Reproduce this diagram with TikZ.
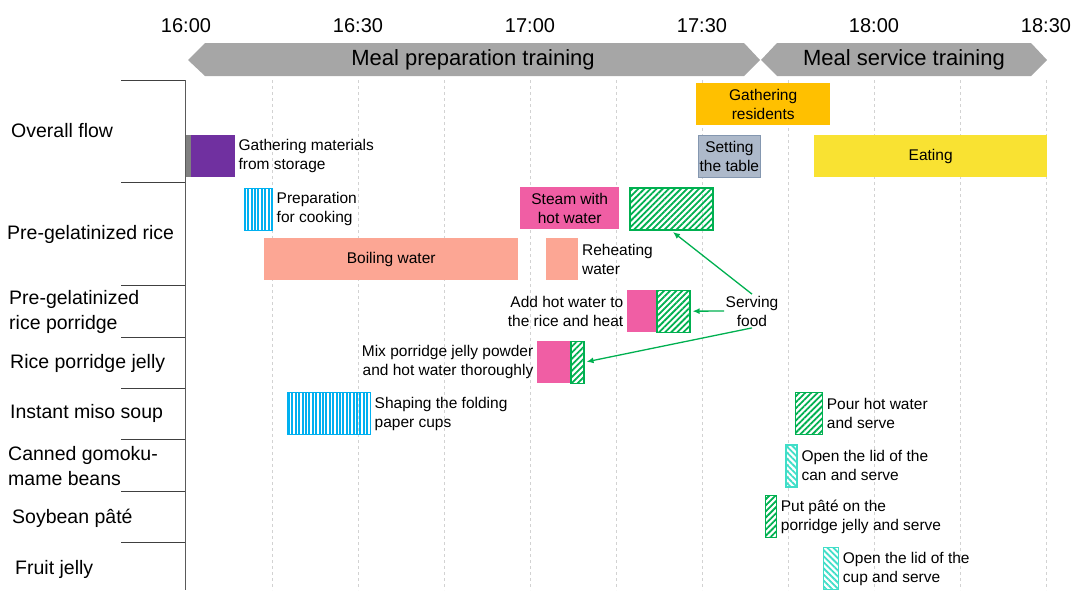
\documentclass[tikz,border=0pt]{standalone}
\usepackage{fontspec}
\setmainfont{Liberation Sans}
\usetikzlibrary{positioning,arrows.meta,patterns.meta}
\definecolor{PhaseGray}{RGB}{166,166,166}
\definecolor{StoreViolet}{RGB}{112,48,160}
\definecolor{StoreEdge}{RGB}{128,128,128}
\definecolor{ResidentOrange}{RGB}{255,192,0}
\definecolor{TableBlue}{RGB}{173,185,202}
\definecolor{TableEdge}{RGB}{132,151,176}
\definecolor{EatYellow}{RGB}{249,226,50}
\definecolor{SteamPink}{RGB}{240,94,164}
\definecolor{BoilSalmon}{RGB}{252,166,148}
\definecolor{ServeGreen}{RGB}{0,176,80}
\definecolor{LidCyan}{RGB}{64,222,200}
\definecolor{CupBlue}{RGB}{0,176,240}
\definecolor{GridGray}{RGB}{210,210,210}
\definecolor{AxisGray}{RGB}{90,90,90}

\begin{document}
\begin{tikzpicture}[
  x=1pt, y=-1pt,
  >={Latex[length=7pt,width=6pt]},
  tick/.style={font=\fontsize{20}{24}\selectfont, inner sep=0pt},
  phase/.style={font=\fontsize{22}{26}\selectfont, inner sep=0pt},
  row/.style={font=\fontsize{19.5}{24.5}\selectfont, anchor=west, align=left, inner sep=0pt},
  note/.style={font=\fontsize{15.5}{19}\selectfont, align=left, inner sep=1.5pt},
  bar/.style={anchor=north west, minimum height=42, inner sep=0pt, align=center,
              font=\fontsize{15.5}{19}\selectfont},
  hatch/.style={bar, draw=ServeGreen, line width=1.2pt, pattern color=ServeGreen,
                pattern={Lines[angle=45, distance=4.3pt, line width=1.8pt]}},
  lidhatch/.style={bar, draw=LidCyan, line width=1.2pt, pattern color=LidCyan,
                   pattern={Lines[angle=-45, distance=4.3pt, line width=1.8pt]}},
  stripe/.style={bar, draw=CupBlue, line width=1pt, pattern color=CupBlue,
                 pattern={Lines[angle=90, distance=3.4pt, line width=2pt]}},
  grid/.style={GridGray, dashed, line width=0.7pt},
  sep/.style={black!75, line width=0.8pt},
  axis/.style={AxisGray, line width=1pt},
  servearrow/.style={->, ServeGreen, line width=1.3pt, shorten >=2pt},
]
\useasboundingbox (0,0) rectangle (1072,590);

% ============ TIME AXIS (top) ============
\foreach \t [count=\i from 0] in {16:00,16:30,17:00,17:30,18:00,18:30}
  \node[tick] (t\i) at (186+172*\i, 26) {\t};
\foreach \i in {1,...,10}
  \draw[grid] (186+86*\i, 80) -- (186+86*\i, 590);

% phase banners
\fill[PhaseGray] (188,60) -- (205,43) -- (744,43) -- (760,60) -- (744,76) -- (205,76) -- cycle;
\fill[PhaseGray] (761,60) -- (777,43) -- (1031,43) -- (1047,60) -- (1031,76) -- (777,76) -- cycle;
\node[phase] (prep) at (473,60) {Meal preparation training};
\node[phase] (service) at (904,60) {Meal service training};

% ============ ROW HEADS (left) ============
\foreach \y in {80,182,285,337,388,439,491,542}
  \draw[sep] (121,\y) -- (186,\y);
\node[row] (rflow)   at (11,131)  {Overall flow};
\node[row] (rrice)   at (7,234)   {Pre-gelatinized rice};
\node[row] (rporr)   at (9,312)   {Pre-gelatinized\\rice porridge};
\node[row] (rjelly)  at (10,363)  {Rice porridge jelly};
\node[row] (rmiso)   at (10,413)  {Instant miso soup};
\node[row] (rbeans)  at (8,466)   {Canned gomoku-\\mame beans};
\node[row] (rpate)   at (12,518)  {Soybean pâté};
\node[row] (rfruit)  at (15,569)  {Fruit jelly};

% ============ OVERALL FLOW ============
\node[bar, fill=StoreEdge, minimum width=7] (fetchedge) at (186,135) {};
\node[bar, fill=StoreViolet, minimum width=44] (fetch) at (190.5,135) {};
\node[note, right=2pt of fetch] (fetchtxt) {Gathering materials\\from storage};
\node[bar, fill=ResidentOrange, minimum width=134] (gather) at (696,83) {Gathering\\residents};
\node[bar, fill=TableBlue, draw=TableEdge, line width=0.8pt, minimum width=62] (table) at (698,135) {Setting\\the table};
\node[bar, fill=EatYellow, minimum width=233] (eat) at (814,135) {Eating};

% ============ PRE-GELATINIZED RICE ============
\node[stripe, minimum width=28] (prepcook) at (243,187) {};
\node[note, right=2pt of prepcook] (prepcooktxt) {Preparation\\for cooking};
\node[bar, fill=SteamPink, minimum width=99] (steam) at (520,187) {Steam with\\hot water};
\node[hatch, minimum width=83] (riceserve) at (629,187) {};
\node[bar, fill=BoilSalmon, minimum width=254] (boil) at (264,238) {Boiling water};
\node[bar, fill=BoilSalmon, minimum width=32] (reheat) at (546,238) {};
\node[note, right=2pt of reheat] (reheattxt) {Reheating\\water};

% ============ PORRIDGE / JELLY ============
\node[bar, fill=SteamPink, minimum width=29] (addwater) at (627,290) {};
\node[hatch, minimum width=33, right=0pt of addwater] (porrserve) {};
\node[note, align=right, left=2pt of addwater] (addwatertxt) {Add hot water to\\the rice and heat};
\node[bar, fill=SteamPink, minimum width=33] (mix) at (537,341) {};
\node[hatch, minimum width=13, right=0pt of mix] (jellyserve) {};
\node[note, align=right, left=2pt of mix] (mixtxt) {Mix porridge jelly powder\\and hot water thoroughly};

% ============ SIDE DISHES ============
\node[stripe, minimum width=83] (cups) at (287,392) {};
\node[note, right=2pt of cups] (cupstxt) {Shaping the folding\\paper cups};
\node[hatch, minimum width=27] (misoserve) at (795,392) {};
\node[note, right=2pt of misoserve] (misotxt) {Pour hot water\\and serve};
\node[lidhatch, minimum width=11] (beanserve) at (785,444) {};
\node[note, right=2pt of beanserve] (beantxt) {Open the lid of the\\can and serve};
\node[hatch, minimum width=11] (pateserve) at (765,495) {};
\node[note, right=2pt of pateserve] (patetxt) {Put pâté on the\\porridge jelly and serve};
\node[lidhatch, minimum width=15] (fruitserve) at (823,547) {};
\node[note, right=2pt of fruitserve] (fruittxt) {Open the lid of the\\cup and serve};

% ---- serving food callout ----
\node[note, align=center] (serve) at (752,311) {Serving\\food};
\draw[servearrow] (serve.north) -- (riceserve.south);
\draw[servearrow] (serve.west) -- (porrserve.east);
\draw[servearrow] (serve.south) -- (jellyserve.east);

% axis line on top
\draw[axis] (185,80) -- (185,590);

\end{tikzpicture}
\end{document}
